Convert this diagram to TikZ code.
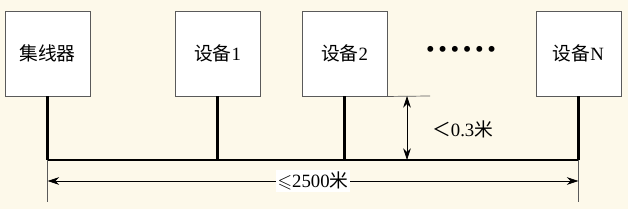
\documentclass[tikz,border=0pt]{standalone}
\usepackage{amssymb}
\usepackage{fontspec}
\setmainfont{Liberation Serif}
\newfontfamily\cjk{Noto Sans CJK SC}
\usetikzlibrary{arrows.meta}
\definecolor{paper}{HTML}{FDF9EA}
\definecolor{edge}{HTML}{5A5A5A}

\begin{document}
\begin{tikzpicture}[
      x=0.03cm, y=-0.03cm,
      dev/.style={rectangle, draw=edge, thick, fill=white, inner sep=0pt,
                  minimum width=2.55cm, minimum height=2.55cm, font=\fontsize{16}{18}\selectfont},
      bus/.style={line width=1.8pt, black},
      stub/.style={line width=1.8pt, black},
      guide/.style={edge, line width=0.6pt},
      dim/.style={{Stealth[length=3.5mm, width=2.3mm]}-{Stealth[length=3.5mm, width=2.3mm]}, line width=0.6pt, black},
      lbl/.style={font=\fontsize{16}{18}\selectfont}
    ]
    % background and margins
    \fill[paper] (0,0) rectangle (628,209);
    \useasboundingbox (0,0) rectangle (628,209);

    \node[dev] (hub) at (47.5,53.5) {\cjk 集线器};
    \node[dev] (dev1) at (217.5,53.5) {{\cjk 设备}1};
    \node[dev] (dev2) at (344.5,53.5) {{\cjk 设备}2};
    \node[dev] (devN) at (578.5,53.5) {{\cjk 设备}N};
    \node[font=\fontsize{21}{22}\selectfont] (dots) at (461,52)
      {\textbullet\hspace{0.11cm}\textbullet\hspace{0.11cm}\textbullet\hspace{0.11cm}\textbullet\hspace{0.11cm}\textbullet\hspace{0.11cm}\textbullet};

    % bus taps
    \coordinate (tapH) at (hub.south |- 0,160);
    \coordinate (tap1) at (dev1.south |- 0,160);
    \coordinate (tap2) at (dev2.south |- 0,160);
    \coordinate (tapN) at (devN.south |- 0,160);
    \draw[stub] (hub.south) -- (tapH);
    \draw[stub] (dev1.south) -- (tap1);
    \draw[stub] (dev2.south) -- (tap2);
    \draw[stub] (devN.south) -- (tapN);
    \draw[bus] (tapH) -- (tapN);

    % length dimension
    \coordinate (endH) at (hub.south |- 0,202);
    \coordinate (endN) at (devN.south |- 0,202);
    \draw[guide] (tapH) -- (endH);
    \draw[guide] (tapN) -- (endN);
    \coordinate (dimL) at (hub.south |- 0,181);
    \coordinate (dimR) at (devN.south |- 0,181);
    \draw[dim] (dimL) -- (dimR)
      node[lbl, midway, fill=white, inner sep=1.5pt] (len) {$\leqslant$2500{\cjk 米}};

    % stub length dimension
    \coordinate (stubTop) at (430,96);
    \draw[guide] (dev2.south east) -- (stubTop);
    \coordinate (hA) at (407,96);
    \coordinate (hB) at (407,160);
    \draw[dim] (hA) -- (hB);
    \node[lbl, anchor=west] (stublen) at (428,129) {\cjk ＜\textrm{0.3}米};
  \end{tikzpicture}
\end{document}
